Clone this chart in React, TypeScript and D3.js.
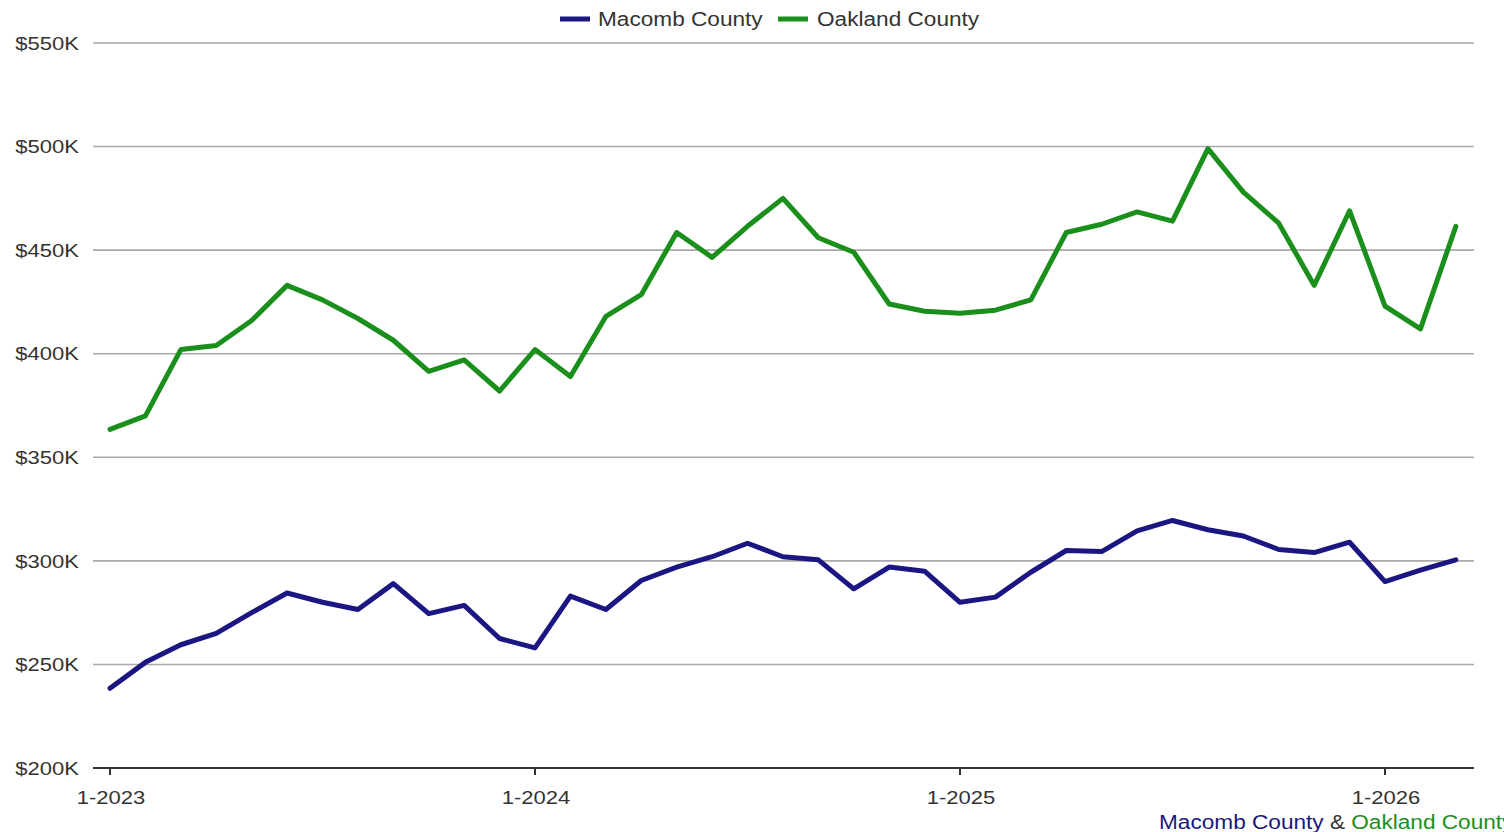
import React from "react";
import * as d3 from "d3";

// Monthly median sale price, in $K, Jan 2023 – Mar 2026
const months: string[] = [
  "1-2023","2-2023","3-2023","4-2023","5-2023","6-2023","7-2023","8-2023","9-2023","10-2023","11-2023","12-2023",
  "1-2024","2-2024","3-2024","4-2024","5-2024","6-2024","7-2024","8-2024","9-2024","10-2024","11-2024","12-2024",
  "1-2025","2-2025","3-2025","4-2025","5-2025","6-2025","7-2025","8-2025","9-2025","10-2025","11-2025","12-2025",
  "1-2026","2-2026","3-2026",
];

const macomb: number[] = [
  238.5, 251, 259.5, 265, 275, 284.5, 280, 276.5, 289, 274.5, 278.5, 262.5,
  258, 283, 276.5, 290.5, 297, 302, 308.5, 302, 300.5, 286.5, 297, 295,
  280, 282.5, 294.5, 305, 304.5, 314.5, 319.5, 315, 312, 305.5, 304, 309,
  290, 295.5, 300.5,
];

const oakland: number[] = [
  363.5, 370, 402, 404, 416, 433, 426, 417, 406.5, 391.5, 397, 382,
  402, 389, 418, 428.5, 458.5, 446.5, 461.5, 475, 456, 449, 424, 420.5,
  419.5, 421, 426, 458.5, 462.5, 468.5, 464, 499, 478, 463, 433, 469,
  423, 412, 461.5,
];

const seriesNames: string[] = ["Macomb County", "Oakland County"];
const seriesColors: string[] = ["#1c1682", "#1b8f1b"];

const yTicks: number[] = [200, 250, 300, 350, 400, 450, 500, 550];
const xTickIndices: number[] = [0, 12, 24, 36];

const W = 1504;
const H = 832;
const FONT = "'Liberation Sans', Arial, sans-serif";
const STRETCH = 1.16;

type LabelProps = {
  x: number;
  y: number;
  size: number;
  anchor?: "start" | "middle" | "end";
  fill?: string;
  children: React.ReactNode;
};

// Text drawn slightly wide, anchored at (x, y)
function Label({ x, y, size, anchor = "start", fill = "#333", children }: LabelProps) {
  return (
    <text
      transform={`translate(${x},${y}) scale(${STRETCH},1)`}
      dy="0.35em"
      textAnchor={anchor}
      fontSize={size}
      fill={fill}
    >
      {children}
    </text>
  );
}

export default function App() {
  const x = d3.scaleLinear().domain([0, 36]).range([110, 1385]);
  const y = d3.scaleLinear().domain([200, 550]).range([768, 43]);
  const gridX0 = 93;
  const gridX1 = 1474;

  const line = d3
    .line<number>()
    .x((_, i) => x(i))
    .y((d) => y(d));

  const series = [macomb, oakland];

  return (
    <div style={{ position: "fixed", left: 0, top: 0, width: W, height: H, background: "#fff" }}>
      <svg width={W} height={H} style={{ display: "block" }} fontFamily={FONT}>
        {/* horizontal gridlines */}
        {yTicks.slice(1).map((t) => (
          <line key={t} x1={gridX0} x2={gridX1} y1={y(t)} y2={y(t)} stroke="#a9a9a9" strokeWidth={1.6} />
        ))}
        {/* y-axis labels */}
        {yTicks.map((t) => (
          <Label key={t} x={79} y={y(t)} size={19} anchor="end">
            {`$${t}K`}
          </Label>
        ))}
        {/* baseline */}
        <line x1={gridX0} x2={gridX1} y1={y(200)} y2={y(200)} stroke="#333" strokeWidth={2.2} />
        {/* x ticks */}
        {xTickIndices.map((i) => (
          <g key={i}>
            <line x1={x(i)} x2={x(i)} y1={y(200)} y2={y(200) + 7} stroke="#333" strokeWidth={2} />
            <Label x={x(i) + 1} y={797} size={19} anchor="middle">
              {months[i]}
            </Label>
          </g>
        ))}
        {/* series lines */}
        {series.map((s, k) => (
          <path
            key={k}
            d={line(s) ?? ""}
            fill="none"
            stroke={seriesColors[k]}
            strokeWidth={5}
            strokeLinejoin="round"
            strokeLinecap="round"
          />
        ))}
        {/* legend */}
        <g>
          <line x1={560} x2={590} y1={19} y2={19} stroke={seriesColors[0]} strokeWidth={5} />
          <Label x={598} y={19} size={19.5}>{seriesNames[0]}</Label>
          <line x1={778} x2={808} y1={19} y2={19} stroke={seriesColors[1]} strokeWidth={5} />
          <Label x={817} y={19} size={19.5}>{seriesNames[1]}</Label>
        </g>
        {/* source caption */}
        <text transform={`translate(1159,822) scale(${STRETCH},1)`} dy="0.35em" fontSize={19.5}>
          <tspan fill={seriesColors[0]}>{seriesNames[0]}</tspan>
          <tspan fill="#333">{" & "}</tspan>
          <tspan fill={seriesColors[1]}>{seriesNames[1]}</tspan>
        </text>
      </svg>
    </div>
  );
}
